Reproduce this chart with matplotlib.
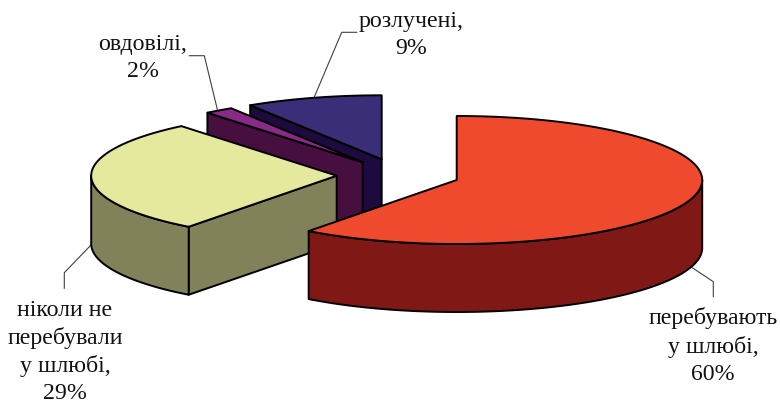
import numpy as np
import matplotlib
matplotlib.use('Agg')
import matplotlib.pyplot as plt
from matplotlib.patches import Polygon

# shares, clockwise from 12 o'clock
names = ['перебувають\nу шлюбі,', 'ніколи не\nперебували\nу шлюбі,', 'овдовілі,', 'розлучені,']
shares = [60.3, 28.8, 1.9, 9.0]

top_colors = ['#F04A2E', '#E4E99E', '#8A2A88', '#3A2E78']
side_colors = ['#801815', '#81825A', '#470E40', '#1C0B3C']

# layout in pixels (exploded slice apex, ellipse radii, depth)
apex = [(456.7, 180), (336.7, 175.7), (362.7, 162.3), (381.7, 159.3)]
rx, ry, depth = 245.5, 64, 68
label_pos = [(713, 346), (65, 352), (143, 58), (411, 35)]
leaders = [
    [(691.7, 267.3), (713.3, 281.7), (713.3, 296.7)],
    [(91, 245), (64.3, 272.7), (64.3, 288.3)],
    [(217.7, 111), (204.3, 55.7), (189.3, 55.7)],
    [(314, 97.7), (341.7, 32.3), (356.7, 32.3)],
]
draw_order = [3, 2, 1, 0]


def arc(center, t0, t1, dy=0):
    t = np.radians(np.linspace(t0, t1, 200))
    x = center[0] + rx * np.sin(t)
    y = center[1] - ry * np.cos(t) + dy
    return np.column_stack([x, y])


def draw_slice(ax, center, t0, t1, top, side):
    kw = dict(edgecolor='black', linewidth=1.4, joinstyle='round')
    # cut face towards the viewer
    if 180 < t0 < 360:
        p = arc(center, t0, t0)[0]
        ax.add_patch(Polygon([center, p, (p[0], p[1] + depth), (center[0], center[1] + depth)],
                             facecolor=side, **kw))
    # outer wall, front half only
    lo, hi = max(t0, 90), min(t1, 270)
    if lo < hi:
        ax.add_patch(Polygon(np.vstack([arc(center, lo, hi), arc(center, hi, lo, depth)]),
                             facecolor=side, **kw))
    ax.add_patch(Polygon(np.vstack([[center], arc(center, t0, t1)]), facecolor=top, **kw))


fig = plt.figure(figsize=(7.8, 4.04), dpi=100)
ax = fig.add_axes([0, 0, 1, 1])
ax.set_xlim(0, 780)
ax.set_ylim(404, 0)
ax.axis('off')

angles = np.concatenate([[0], np.cumsum(shares)]) / np.sum(shares) * 360

for line in leaders:
    pts = np.array(line)
    ax.plot(pts[:, 0], pts[:, 1], color='#404040', lw=0.8, zorder=1)

for i in draw_order:
    draw_slice(ax, apex[i], angles[i], angles[i + 1], top_colors[i], side_colors[i])

for i in range(len(names)):
    ax.text(label_pos[i][0], label_pos[i][1], f'{names[i]}\n{round(shares[i])}%',
            ha='center', va='center', fontsize=17.2, family='Liberation Serif',
            color='#111111', linespacing=1.37)

fig.savefig('out.png', dpi=100)
